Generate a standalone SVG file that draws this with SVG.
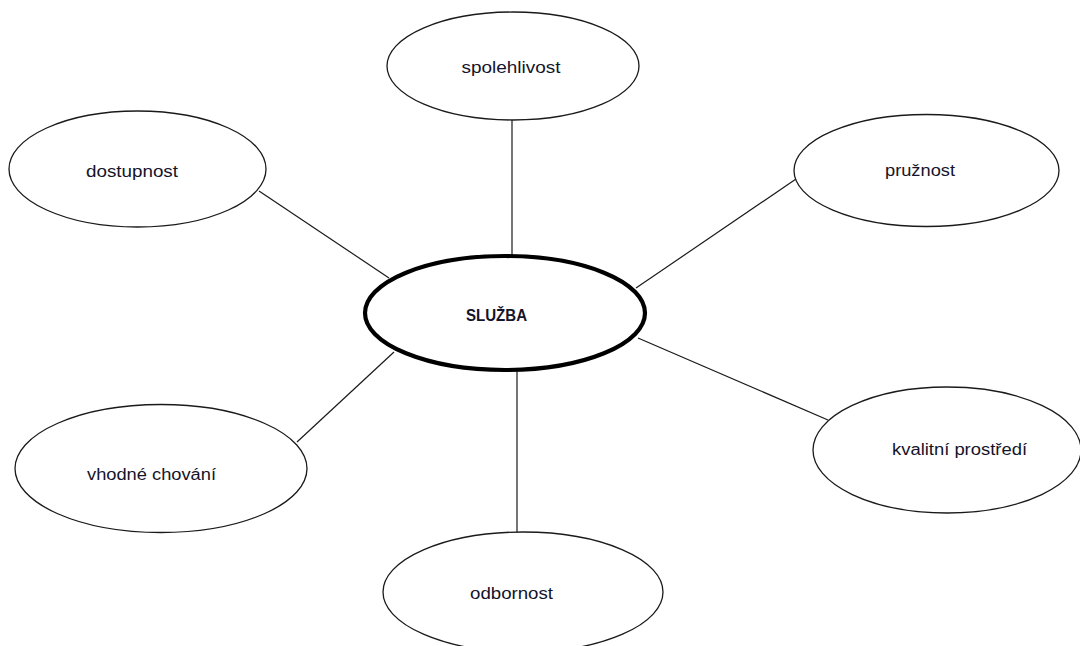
<svg xmlns="http://www.w3.org/2000/svg" width="1080" height="646" viewBox="0 0 1080 646">
  <style>
    .node { fill: #ffffff; stroke: #1a1a1a; stroke-width: 1.3; }
    .hub { fill: #ffffff; stroke: #000000; stroke-width: 4.2; }
    .link { stroke: #1a1a1a; stroke-width: 1.2; fill: none; }
    .label { font-family: "Liberation Sans", Arial, sans-serif; font-size: 16px; fill: #14142a; text-anchor: middle; }
    .hub-label { font-family: "Liberation Sans", Arial, sans-serif; font-size: 17px; font-weight: bold; fill: #14142a; text-anchor: middle; }
  </style>
  <rect width="1080" height="646" fill="#ffffff"/>

  <!-- spokes from the central node -->
  <g id="connectors">
    <line class="link" x1="512" y1="120" x2="512" y2="256"/>
    <line class="link" x1="259" y1="191" x2="389" y2="278"/>
    <line class="link" x1="796" y1="179" x2="636" y2="288"/>
    <line class="link" x1="297" y1="442" x2="394" y2="352"/>
    <line class="link" x1="638" y1="338" x2="828" y2="420"/>
    <line class="link" x1="517" y1="370" x2="517" y2="532"/>
  </g>

  <g id="node-spolehlivost">
    <ellipse class="node" cx="513" cy="66" rx="126" ry="54"/>
    <text class="label" x="511" y="73" textLength="99" lengthAdjust="spacingAndGlyphs">spolehlivost</text>
  </g>

  <g id="node-dostupnost">
    <ellipse class="node" cx="137.5" cy="169" rx="128.5" ry="58"/>
    <text class="label" x="132" y="177" textLength="92" lengthAdjust="spacingAndGlyphs">dostupnost</text>
  </g>

  <g id="node-pruznost">
    <ellipse class="node" cx="926.5" cy="170.5" rx="132.5" ry="56"/>
    <text class="label" x="920" y="176" textLength="70" lengthAdjust="spacingAndGlyphs">pružnost</text>
  </g>

  <g id="node-sluzba">
    <ellipse class="hub" cx="505" cy="313" rx="140" ry="57"/>
    <text class="hub-label" x="496.5" y="321" textLength="61" lengthAdjust="spacingAndGlyphs">SLUŽBA</text>
  </g>

  <g id="node-vhodne-chovani">
    <ellipse class="node" cx="161" cy="468.5" rx="146" ry="64"/>
    <text class="label" x="151.5" y="480" textLength="129" lengthAdjust="spacingAndGlyphs">vhodné chování</text>
  </g>

  <g id="node-kvalitni-prostredi">
    <ellipse class="node" cx="947" cy="450" rx="134" ry="63"/>
    <text class="label" x="959.5" y="455" textLength="135" lengthAdjust="spacingAndGlyphs">kvalitní prostředí</text>
  </g>

  <g id="node-odbornost">
    <ellipse class="node" cx="523" cy="592" rx="140" ry="60"/>
    <text class="label" x="511.5" y="599" textLength="83" lengthAdjust="spacingAndGlyphs">odbornost</text>
  </g>
</svg>
